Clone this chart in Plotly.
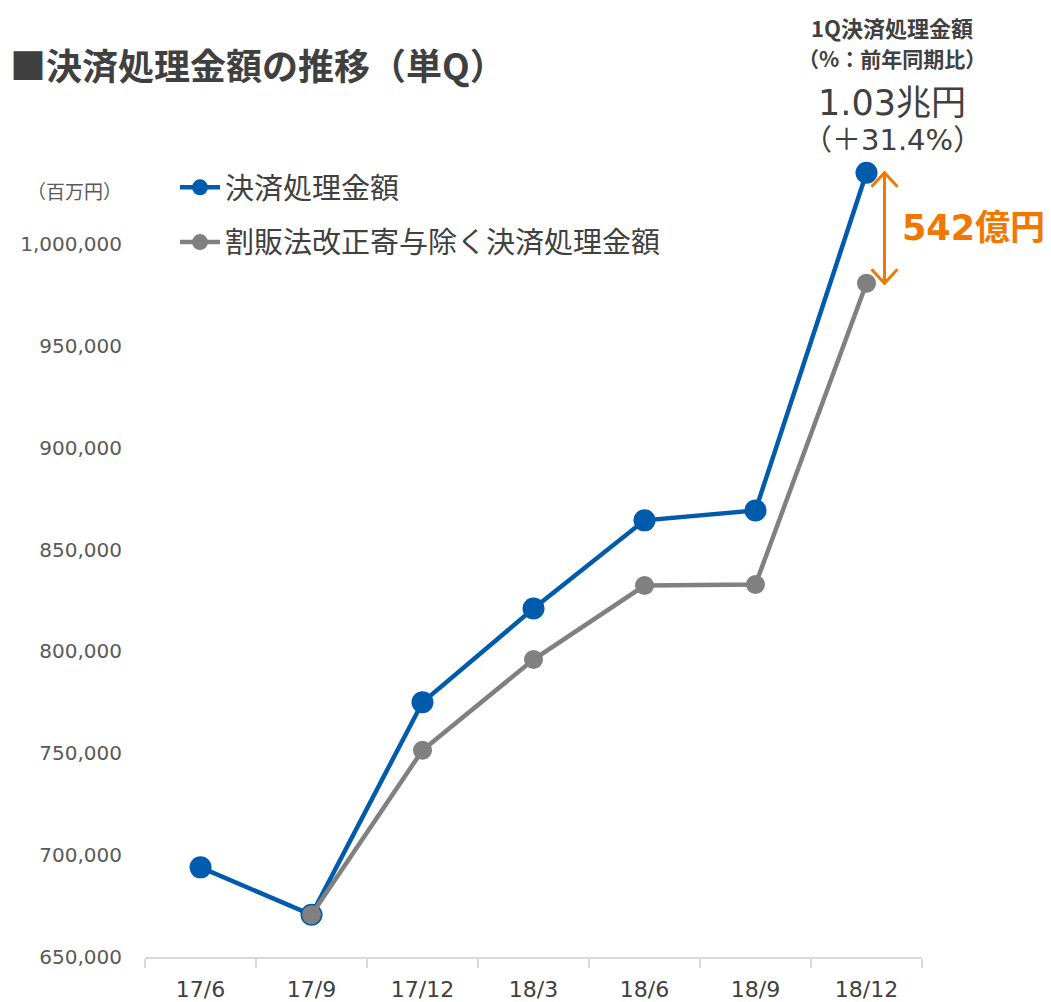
import plotly.graph_objects as go

quarters = ["17/6", "17/9", "17/12", "18/3", "18/6", "18/9", "18/12"]
settlement = [694000, 670700, 775000, 821000, 864300, 869200, 1034900]
settlement_ex = [None, 670700, 751500, 796000, 832300, 832800, 980700]
y_ticks = [650000, 700000, 750000, 800000, 850000, 900000, 950000, 1000000]
y_range = [650000, 1050000]

BLUE = "#005BAC"
GRAY = "#808080"
ORANGE = "#F07800"
TXT = "#404040"
FONT = "Noto Sans CJK JP"
NUMFONT = "DejaVu Sans, Noto Sans CJK JP"

OFF = 8  # browser default body margin
W, H = 1051 - OFF, 1002 - OFF
ML, MT = 145 - OFF, 142 - OFF
MR = W - (922 - OFF)
MB = H - (957 - OFF)
plot_h = H - MT - MB
plot_w = W - ML - MR


def px(xs):
    return (xs - OFF - ML) / plot_w


def py(ys):
    return 1 - (ys - OFF - MT) / plot_h


fig = go.Figure()
fig.add_trace(go.Scatter(
    x=quarters, y=settlement, mode="lines+markers", name="決済処理金額",
    line=dict(color=BLUE, width=4.5), marker=dict(size=22, color=BLUE),
    legendgroup="a"))
fig.add_trace(go.Scatter(
    x=quarters, y=settlement_ex, mode="lines+markers", name="割販法改正寄与除く決済処理金額",
    line=dict(color=GRAY, width=4.5), marker=dict(size=19, color=GRAY),
    legendgroup="b", connectgaps=False))

fig.update_layout(
    width=W, height=H, margin=dict(l=ML, r=MR, t=MT, b=MB, autoexpand=False),
    paper_bgcolor="white", plot_bgcolor="white",
    font=dict(family=FONT, color=TXT),
    showlegend=True,
    legend=dict(x=px(175), y=py(162), xanchor="left", yanchor="top",
                font=dict(size=29, color=TXT, family=FONT), bgcolor="rgba(0,0,0,0)",
                tracegroupgap=14, traceorder="grouped", itemwidth=40),
    xaxis=dict(type="category", range=[-0.5, 6.5], showgrid=False, showline=True,
               linecolor="#D9D9D9", linewidth=2, ticks="outside", tickcolor="#D9D9D9",
               ticklen=9, tickwidth=1.5, tickson="boundaries", ticklabelstandoff=12,
               automargin=False,
               tickfont=dict(size=22, color=TXT, family=NUMFONT)),
    yaxis=dict(range=y_range, tickvals=y_ticks, tickformat=",d", showgrid=False,
               showline=False, zeroline=False, ticks="", ticklabelstandoff=22,
               automargin=False,
               tickfont=dict(size=20, color="#595959", family=NUMFONT)),
)

# axis unit label
fig.add_annotation(xref="paper", yref="paper", x=px(124), y=py(190),
                   text="（百万円）", showarrow=False, xanchor="right", yanchor="middle",
                   font=dict(size=19, color="#595959"))

# title
fig.add_annotation(xref="paper", yref="paper", x=px(8), y=py(64),
                   text="<b>■決済処理金額の推移（単Q）</b>", showarrow=False, xanchor="left",
                   yanchor="middle", font=dict(size=36, color=TXT))

# top-right annotations
cx = px(892)
fig.add_annotation(xref="paper", yref="paper", x=cx, y=py(9), text="<b>1Q決済処理金額</b>",
                   showarrow=False, xanchor="center", yanchor="top",
                   font=dict(size=22, color=TXT, family=FONT))
for ty, txt, sz, fam in [(58, "<b>（%：前年同期比）</b>", 21, FONT),
                         (103, "1.03兆円", 35, NUMFONT),
                         (140, "（＋31.4%）", 29, NUMFONT)]:
    fig.add_annotation(xref="paper", yref="paper", x=cx, y=py(ty), text=txt,
                       showarrow=False, xanchor="center", yanchor="middle",
                       font=dict(size=sz, color=TXT, family=fam))

# difference arrow between last points
xpix_per_cat = plot_w / 7
ypix_per_unit = plot_h / (y_range[1] - y_range[0])
ax_x = 6 + 18 / xpix_per_cat
top = settlement[-1]
bot = settlement_ex[-1]
dx = 13 / xpix_per_cat
dy = 14 / ypix_per_unit
line_style = dict(color=ORANGE, width=3)
fig.add_shape(type="line", xref="x", yref="y", x0=ax_x, x1=ax_x, y0=top, y1=bot, line=line_style)
fig.add_shape(type="path", xref="x", yref="y",
              path=f"M {ax_x - dx},{top - dy} L {ax_x},{top} L {ax_x + dx},{top - dy}", line=line_style)
fig.add_shape(type="path", xref="x", yref="y",
              path=f"M {ax_x - dx},{bot + dy} L {ax_x},{bot} L {ax_x + dx},{bot + dy}", line=line_style)
fig.add_annotation(xref="paper", yref="y", x=px(900), y=(top + bot) / 2,
                   text="<b>542億円</b>", showarrow=False, xanchor="left", yanchor="middle",
                   font=dict(size=35, color=ORANGE, family=NUMFONT))

fig.write_html("out.html")
